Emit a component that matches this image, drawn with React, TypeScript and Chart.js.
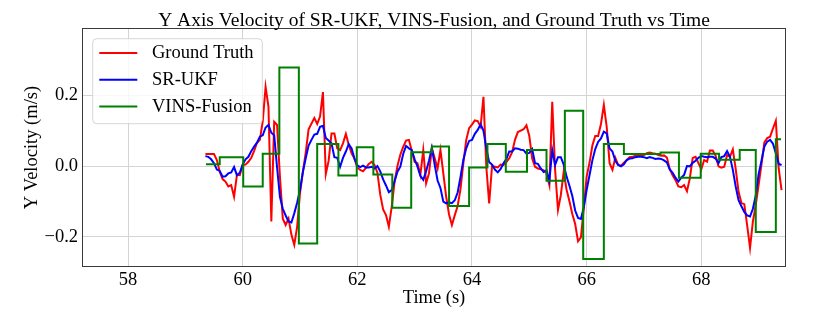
import React, { useEffect, useRef } from 'react';
import { Chart, registerables } from 'chart.js';

Chart.register(...registerables);

// Sample times (s) shared by Ground Truth and SR-UKF
const time = [
  59.35, 59.40, 59.45, 59.50, 59.55, 59.60, 59.65, 59.70, 59.75, 59.80,
  59.85, 59.90, 59.95, 60.00, 60.05, 60.10, 60.15, 60.20, 60.25, 60.30,
  60.35, 60.40, 60.45, 60.50, 60.55, 60.60, 60.65, 60.70, 60.75, 60.80,
  60.85, 60.90, 60.95, 61.00, 61.05, 61.10, 61.15, 61.20, 61.25, 61.30,
  61.35, 61.40, 61.45, 61.50, 61.55, 61.60, 61.65, 61.70, 61.75, 61.80,
  61.85, 61.90, 61.95, 62.00, 62.05, 62.10, 62.15, 62.20, 62.25, 62.30,
  62.35, 62.40, 62.45, 62.50, 62.55, 62.60, 62.65, 62.70, 62.75, 62.80,
  62.85, 62.90, 62.95, 63.00, 63.05, 63.10, 63.15, 63.20, 63.25, 63.30,
  63.35, 63.40, 63.45, 63.50, 63.55, 63.60, 63.65, 63.70, 63.75, 63.80,
  63.85, 63.90, 63.95, 64.00, 64.05, 64.10, 64.15, 64.20, 64.25, 64.30,
  64.35, 64.40, 64.45, 64.50, 64.55, 64.60, 64.65, 64.70, 64.75, 64.80,
  64.85, 64.90, 64.95, 65.00, 65.05, 65.10, 65.15, 65.20, 65.25, 65.30,
  65.35, 65.40, 65.45, 65.50, 65.55, 65.60, 65.65, 65.70, 65.75, 65.80,
  65.85, 65.90, 65.95, 66.00, 66.05, 66.10, 66.15, 66.20, 66.25, 66.30,
  66.35, 66.40, 66.45, 66.50, 66.55, 66.60, 66.65, 66.70, 66.75, 66.80,
  66.85, 66.90, 66.95, 67.00, 67.05, 67.10, 67.15, 67.20, 67.25, 67.30,
  67.35, 67.40, 67.45, 67.50, 67.55, 67.60, 67.65, 67.70, 67.75, 67.80,
  67.85, 67.90, 67.95, 68.00, 68.05, 68.10, 68.15, 68.20, 68.25, 68.30,
  68.35, 68.40, 68.45, 68.50, 68.55, 68.60, 68.65, 68.70, 68.75, 68.80,
  68.85, 68.90, 68.95, 69.00, 69.05, 69.10, 69.15, 69.20, 69.25, 69.30,
  69.35, 69.40,
];

const groundTruth = [
  0.034, 0.034, 0.034, 0.034, 0.017, -0.016, -0.037, -0.044, -0.058, -0.054,
  -0.087, -0.025, -0.026, 0.003, 0.004, 0.012, 0.023, 0.043, 0.066, 0.074,
  0.126, 0.224, 0.168, -0.157, 0.125, 0.116, -0.030, -0.149, -0.167, -0.149,
  -0.194, -0.223, -0.172, -0.077, -0.017, 0.038, 0.104, 0.120, 0.136, 0.119,
  0.140, 0.209, -0.023, 0.015, 0.092, 0.092, 0.050, 0.045, 0.064, 0.091,
  0.060, 0.036, 0.021, -0.004, -0.011, -0.015, -0.005, 0.006, 0.012, 0.003,
  -0.019, -0.081, -0.123, -0.139, -0.172, -0.115, -0.044, 0.000, 0.032, 0.054,
  0.072, 0.074, 0.043, 0.011, 0.008, -0.025, 0.045, -0.049, -0.021, 0.050,
  0.022, -0.007, 0.045, -0.021, -0.087, -0.137, -0.167, -0.139, -0.113, -0.065,
  0.009, 0.074, 0.107, 0.117, 0.129, 0.127, 0.111, 0.196, -0.002, -0.106,
  0.000, -0.002, -0.004, 0.004, 0.003, 0.011, 0.022, 0.039, 0.074, 0.096,
  0.100, 0.104, 0.115, 0.085, 0.021, -0.002, -0.007, -0.009, -0.012, -0.021,
  -0.054, 0.182, -0.011, -0.124, -0.082, -0.016, -0.067, -0.100, -0.136, -0.164,
  -0.213, -0.202, -0.120, -0.030, 0.009, 0.058, 0.085, 0.085, 0.119, 0.173,
  0.111, 0.008, -0.011, 0.023, 0.003, 0.001, 0.009, 0.017, 0.025, 0.026,
  0.029, 0.031, 0.031, 0.031, 0.036, 0.038, 0.036, 0.035, 0.031, 0.029,
  0.030, 0.024, -0.009, -0.026, -0.040, -0.058, -0.060, -0.054, -0.071, -0.035,
  0.023, 0.026, 0.008, -0.009, 0.017, 0.012, 0.044, 0.044, 0.029, -0.001,
  -0.005, -0.002, 0.031, 0.026, 0.047, -0.008, -0.073, -0.105, -0.108, -0.168,
  -0.232, -0.157, -0.110, -0.053, 0.005, 0.067, 0.079, 0.083, 0.106, 0.128,
  -0.007, -0.068,
];

const srUkf = [
  0.028, 0.026, 0.019, 0.008, -0.010, -0.014, -0.030, -0.029, -0.021, -0.018,
  -0.003, -0.026, -0.019, 0.004, 0.019, 0.026, 0.042, 0.055, 0.066, 0.083,
  0.087, 0.109, 0.116, 0.094, 0.087, -0.004, -0.087, -0.121, -0.140, -0.157,
  -0.160, -0.134, -0.104, -0.068, -0.017, 0.022, 0.058, 0.074, 0.089, 0.091,
  0.111, 0.114, 0.079, 0.072, 0.064, 0.025, 0.023, -0.002, 0.023, 0.041,
  0.062, 0.050, 0.021, 0.002, -0.003, 0.001, -0.004, -0.004, -0.002, -0.007,
  0.000, -0.015, -0.038, -0.055, -0.074, -0.068, -0.043, -0.016, -0.002, 0.034,
  0.057, 0.050, 0.045, 0.019, -0.002, -0.028, -0.039, -0.015, 0.015, 0.051,
  0.003, -0.041, -0.062, -0.101, -0.106, -0.103, -0.105, -0.097, -0.075, -0.031,
  0.018, 0.050, 0.071, 0.074, 0.091, 0.102, 0.118, 0.100, 0.050, 0.011,
  0.004, -0.010, -0.018, -0.008, 0.008, 0.020, 0.041, 0.041, 0.050, 0.049,
  0.046, 0.045, 0.035, 0.037, 0.048, 0.008, 0.006, -0.007, -0.017, -0.012,
  -0.042, 0.045, 0.003, 0.025, 0.025, 0.004, -0.030, -0.056, -0.085, -0.126,
  -0.147, -0.150, -0.117, -0.068, -0.026, 0.016, 0.048, 0.068, 0.078, 0.097,
  0.092, 0.050, 0.041, 0.015, 0.003, -0.001, 0.005, 0.017, 0.021, 0.022,
  0.025, 0.026, 0.026, 0.025, 0.022, 0.025, 0.023, 0.020, 0.021, 0.020,
  0.016, 0.010, -0.010, -0.019, -0.033, -0.044, -0.033, -0.025, 0.000, -0.001,
  0.009, 0.015, 0.023, 0.028, 0.026, 0.025, 0.026, 0.026, 0.021, 0.008,
  0.025, 0.028, 0.042, 0.026, -0.011, -0.058, -0.097, -0.114, -0.130, -0.140,
  -0.143, -0.121, -0.083, -0.023, 0.015, 0.055, 0.069, 0.074, 0.063, 0.036,
  0.006, 0.003,
];

// VINS-Fusion: piecewise-constant output, value held from each time until the next
const vinsTime = [
  59.36, 59.60, 60.01, 60.35, 60.64, 60.98, 61.30, 61.67, 61.99, 62.28,
  62.61, 62.94, 63.30, 63.60, 63.95, 64.27, 64.59, 64.96, 65.30, 65.62,
  65.94, 66.30, 66.65, 67.29, 67.61, 67.99, 68.31, 68.67, 68.95, 69.30,
  69.39,
];
const vinsFusion = [
  0.005, 0.025, -0.058, 0.035, 0.279, -0.219, 0.062, -0.027, 0.053, -0.024,
  -0.118, 0.039, 0.055, -0.113, -0.004, 0.062, -0.016, 0.045, -0.042, 0.156,
  -0.263, 0.062, 0.034, 0.038, -0.033, 0.035, 0.018, 0.045, -0.187, 0.076,
  0.076,
];

const xTicks = [58, 60, 62, 64, 66, 68];
const yTicks = [-0.2, 0.0, 0.2];
const seriesLabels = ['Ground Truth', 'SR-UKF', 'VINS-Fusion'];
const seriesColors = ['#ff0000', '#0000ff', '#008000'];
const titleText = 'Y Axis Velocity of SR-UKF, VINS-Fusion, and Ground Truth vs Time';
const xLabel = 'Time (s)';
const yLabel = 'Y Velocity (m/s)';

const FONT = "'Liberation Serif', 'Times New Roman', 'DejaVu Serif', serif";
const FS = 18.5;

function fmtY(v: number): string {
  const s = Math.abs(v).toFixed(1);
  return v < -1e-9 ? '\u2212' + s : s;
}

export default function App() {
  const ref = useRef<HTMLCanvasElement>(null);

  useEffect(() => {
    document.body.style.margin = '0';
    const canvas = ref.current;
    if (!canvas) return;

    const decor = {
      id: 'decor',
      afterDatasetsDraw(chart: any) {
        const { ctx, chartArea: a } = chart;
        ctx.save();
        // spines
        ctx.strokeStyle = '#3a3a3a';
        ctx.lineWidth = 1;
        ctx.strokeRect(a.left - 0.5, a.top - 0.5, a.right - a.left + 1, a.bottom - a.top + 1);
        // title
        ctx.fillStyle = '#000';
        ctx.font = `19.5px ${FONT}`;
        ctx.textAlign = 'center';
        ctx.textBaseline = 'alphabetic';
        ctx.fillText(titleText, (a.left + a.right) / 2, 26);
        // legend
        const bx = a.left + 9.7;
        const by = a.top + 9.7;
        const bw = 169.6;
        const bh = 85;
        const r = 4;
        ctx.beginPath();
        ctx.moveTo(bx + r, by);
        ctx.lineTo(bx + bw - r, by);
        ctx.arcTo(bx + bw, by, bx + bw, by + r, r);
        ctx.lineTo(bx + bw, by + bh - r);
        ctx.arcTo(bx + bw, by + bh, bx + bw - r, by + bh, r);
        ctx.lineTo(bx + r, by + bh);
        ctx.arcTo(bx, by + bh, bx, by + bh - r, r);
        ctx.lineTo(bx, by + r);
        ctx.arcTo(bx, by, bx + r, by, r);
        ctx.closePath();
        ctx.fillStyle = 'rgba(255,255,255,0.8)';
        ctx.fill();
        ctx.strokeStyle = 'rgba(204,204,204,0.8)';
        ctx.lineWidth = 1;
        ctx.stroke();
        ctx.font = `${FS}px ${FONT}`;
        ctx.textAlign = 'left';
        ctx.textBaseline = 'middle';
        chart.data.datasets.forEach((ds: any, i: number) => {
          const y = by + 14.3 + i * 26.7;
          ctx.strokeStyle = ds.borderColor;
          ctx.lineWidth = 2;
          ctx.beginPath();
          ctx.moveTo(bx + 6.6, y);
          ctx.lineTo(bx + 44.6, y);
          ctx.stroke();
          ctx.fillStyle = '#000';
          ctx.fillText(ds.label, bx + 59.3, y + 0.5);
        });
        ctx.restore();
      },
    };

    const tickFont = { family: FONT, size: FS };

    const chart = new Chart(canvas, {
      type: 'line',
      data: {
        datasets: [
          {
            label: seriesLabels[0],
            data: time.map((t, i) => ({ x: t, y: groundTruth[i] })),
            borderColor: seriesColors[0],
            borderWidth: 2,
            pointRadius: 0,
            tension: 0,
            fill: false,
            order: 3,
          },
          {
            label: seriesLabels[1],
            data: time.map((t, i) => ({ x: t, y: srUkf[i] })),
            borderColor: seriesColors[1],
            borderWidth: 2,
            pointRadius: 0,
            tension: 0,
            fill: false,
            order: 2,
          },
          {
            label: seriesLabels[2],
            data: vinsTime.map((t, i) => ({ x: t, y: vinsFusion[i] })),
            borderColor: seriesColors[2],
            borderWidth: 2,
            pointRadius: 0,
            stepped: 'before',
            fill: false,
            order: 1,
          },
        ],
      },
      options: {
        animation: false,
        responsive: false,
        devicePixelRatio: 1,
        layout: { padding: { top: 29, right: 45, bottom: 0, left: 0 } },
        plugins: {
          legend: { display: false },
          title: { display: false },
          tooltip: { enabled: false },
        },
        scales: {
          x: {
            type: 'linear',
            min: 57.215,
            max: 69.46,
            afterBuildTicks: (s: any) => {
              s.ticks = xTicks.map((v) => ({ value: v }));
            },
            afterFit: (s: any) => {
              s.height = 48;
            },
            grid: { color: '#d4d4d4', lineWidth: 1, drawTicks: false },
            border: { display: false },
            ticks: {
              font: tickFont,
              color: '#000',
              padding: 3,
              maxRotation: 0,
              autoSkip: false,
              callback: (v: any) => String(v),
            },
            title: {
              display: true,
              text: xLabel,
              color: '#000',
              font: { family: FONT, size: FS },
              padding: { top: 0, bottom: 5 },
            },
          },
          y: {
            type: 'linear',
            min: -0.2829,
            max: 0.3876,
            afterBuildTicks: (s: any) => {
              s.ticks = yTicks.map((v) => ({ value: v }));
            },
            afterFit: (s: any) => {
              s.width = 83;
            },
            grid: { color: '#d4d4d4', lineWidth: 1, drawTicks: false },
            border: { display: false },
            ticks: {
              font: tickFont,
              color: '#000',
              padding: 5,
              autoSkip: false,
              callback: (v: any) => fmtY(Number(v)),
            },
            title: {
              display: true,
              text: yLabel,
              color: '#000',
              font: { family: FONT, size: FS },
              padding: { top: 21, bottom: 0 },
            },
          },
        },
      },
      plugins: [decor],
    } as any);

    return () => {
      chart.destroy();
    };
  }, []);

  return (
    <div style={{ width: 830, height: 314 }}>
      <canvas ref={ref} width={830} height={314} style={{ display: 'block' }} />
    </div>
  );
}
